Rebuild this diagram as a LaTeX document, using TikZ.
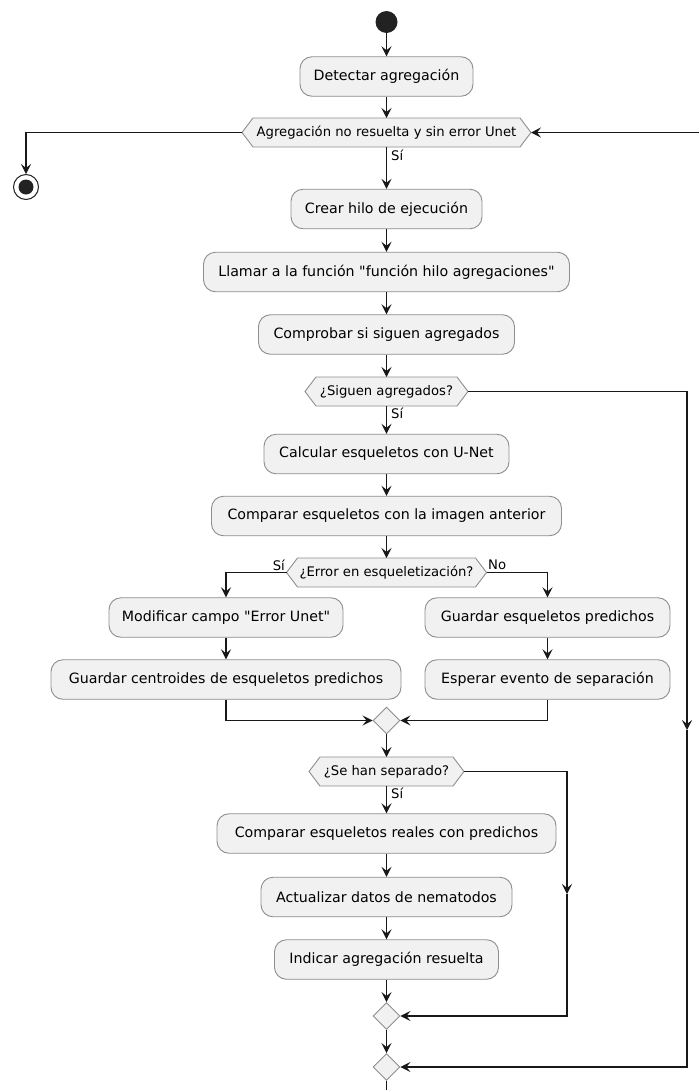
\documentclass[tikz,border=0pt]{standalone}
\usepackage{fontspec}
\setmainfont{DejaVu Sans}
\newfontfamily\plainquote{DejaVu Sans}
\usetikzlibrary{arrows.meta,shapes.geometric}

\definecolor{actfill}{HTML}{F1F1F1}
\definecolor{actborder}{HTML}{8E8E8E}
\definecolor{ink}{HTML}{181818}
\definecolor{dotfill}{HTML}{222222}

% straight double quote (family without TeX ligature mapping)
\newcommand\dq{{\plainquote\symbol{34}}}

\tikzset{
  act/.style={draw=actborder, fill=actfill, line width=0.9pt, rounded corners=12pt,
    minimum height=39.5pt, inner sep=0pt, font=\fontsize{14.2}{16}\selectfont, text=black},
  hexfill/.style={draw=actborder, fill=actfill, line width=0.9pt},
  hextext/.style={inner sep=0pt, font=\fontsize{13.2}{15}\selectfont, text=black},
  merge/.style={diamond, draw=actborder, fill=actfill, line width=0.9pt,
    minimum width=27pt, minimum height=27pt, inner sep=0pt},
  flow/.style={draw=ink, line width=1.1pt, -{Stealth[length=10pt,width=10pt,inset=4pt]}},
  plain/.style={draw=ink, line width=1.1pt},
  guard/.style={inner sep=0pt, font=\fontsize{13.2}{15}\selectfont, text=black},
}

% decision hexagon: name, centre x, centre y, half width (tip to tip), text
\newcommand\hexnode[5]{%
  \path[hexfill] ({#2-#4},#3) -- ({#2-#4+11},{#3-14.5}) -- ({#2+#4-11},{#3-14.5})
    -- ({#2+#4},#3) -- ({#2+#4-11},{#3+14.5}) -- ({#2-#4+11},{#3+14.5}) -- cycle;
  \node[hextext] (#1) at (#2,#3) {#5};
  \coordinate (#1-w) at ({#2-#4},#3);
  \coordinate (#1-e) at ({#2+#4},#3);
  \coordinate (#1-n) at (#2,{#3-14.5});
  \coordinate (#1-s) at (#2,{#3+14.5});
}

\begin{document}
\begin{tikzpicture}[x=1pt,y=-1pt]
\fill[white] (0,0) rectangle (699,1090);
\useasboundingbox (0,0) rectangle (699,1090);

% start and stop
\node[circle, fill=dotfill, minimum size=22pt, inner sep=0pt] (start) at (386.5,22) {};
\node[circle, draw=dotfill, line width=1pt, fill=white, minimum size=25pt, inner sep=0pt] (stop) at (26,187) {};
\node[circle, fill=dotfill, minimum size=15pt, inner sep=0pt] (stopdot) at (26,187) {};

% main loop
\node[act, minimum width=173pt] (detect) at (386.5,76.5) {Detectar agregación};
\hexnode{h1}{386.5}{132.5}{144.5}{Agregación no resuelta y sin error Unet}
\node[act, minimum width=191pt] (crear) at (386.5,209) {Crear hilo de ejecución};
\node[act, minimum width=366pt] (llamar) at (386.5,272) {Llamar a la función \dq función hilo agregaciones\dq};
\node[act, minimum width=256pt] (comprobar) at (386.5,334.5) {Comprobar si siguen agregados};
\hexnode{h2}{386.5}{391.5}{81.5}{¿Siguen agregados?}
\node[act, minimum width=245pt] (calcular) at (386.5,454) {Calcular esqueletos con U-Net};
\node[act, minimum width=350pt] (comparar) at (386.5,516) {Comparar esqueletos con la imagen anterior};
\hexnode{h3}{386.5}{572.5}{100}{¿Error en esqueletización?}

% error branch
\node[act, minimum width=234pt] (modificar) at (226,617.5) {Modificar campo \dq Error Unet\dq};
\node[act, minimum width=350pt] (centroides) at (226,679.5) {Guardar centroides de esqueletos predichos};
% no-error branch
\node[act, minimum width=245pt] (guardar) at (547.5,617.5) {Guardar esqueletos predichos};
\node[act, minimum width=245pt] (esperar) at (547.5,679.5) {Esperar evento de separación};

\node[merge] (d1) at (386.5,720.5) {};
\hexnode{h4}{386.5}{771.5}{77.5}{¿Se han separado?}
\node[act, minimum width=339pt] (reales) at (386.5,833.5) {Comparar esqueletos reales con predichos};
\node[act, minimum width=251pt] (actualizar) at (386.5,897) {Actualizar datos de nematodos};
\node[act, minimum width=224pt] (indicar) at (386.5,959.5) {Indicar agregación resuelta};
\node[merge] (d2) at (386.5,1016) {};
\node[merge] (d3) at (386.5,1067) {};

% guards
\node[guard, anchor=west] (g1) at (391,155) {Sí};
\node[guard, anchor=west] (g2) at (391,413) {Sí};
\node[guard, anchor=east] (g3) at (285,565) {Sí};
\node[guard, anchor=west] (g4) at (488,565) {No};
\node[guard, anchor=west] (g5) at (391,793) {Sí};

% helper points
\coordinate (ret) at (699,132.5);
\coordinate (loopA) at (687,730);
\coordinate (loopB) at (567,894);
\coordinate (out) at (386.5,1090);

% connectors
\draw[flow] (start) -- (detect);
\draw[flow] (detect) -- (h1-n);
\draw[flow] (h1-w) -| (stop.north);
\draw[flow] (ret) -- (h1-e);
\draw[flow] (h1-s) -- (crear);
\draw[flow] (crear) -- (llamar);
\draw[flow] (llamar) -- (comprobar);
\draw[flow] (comprobar) -- (h2-n);
\draw[flow] (h2-s) -- (calcular);
\draw[flow] (h2-e) -| (loopA);
\draw[flow] (loopA) |- (d3.east);
\draw[flow] (calcular) -- (comparar);
\draw[flow] (comparar) -- (h3-n);
\draw[flow] (h3-w) -| (modificar.north);
\draw[flow] (h3-e) -| (guardar.north);
\draw[flow] (modificar) -- (centroides);
\draw[flow] (guardar) -- (esperar);
\draw[flow] (centroides.south) |- (d1.west);
\draw[flow] (esperar.south) |- (d1.east);
\draw[flow] (d1) -- (h4-n);
\draw[flow] (h4-s) -- (reales);
\draw[flow] (h4-e) -| (loopB);
\draw[flow] (loopB) |- (d2.east);
\draw[flow] (reales) -- (actualizar);
\draw[flow] (actualizar) -- (indicar);
\draw[flow] (indicar) -- (d2);
\draw[flow] (d2) -- (d3);
\draw[plain] (d3.south) -- (out);
\end{tikzpicture}
\end{document}
